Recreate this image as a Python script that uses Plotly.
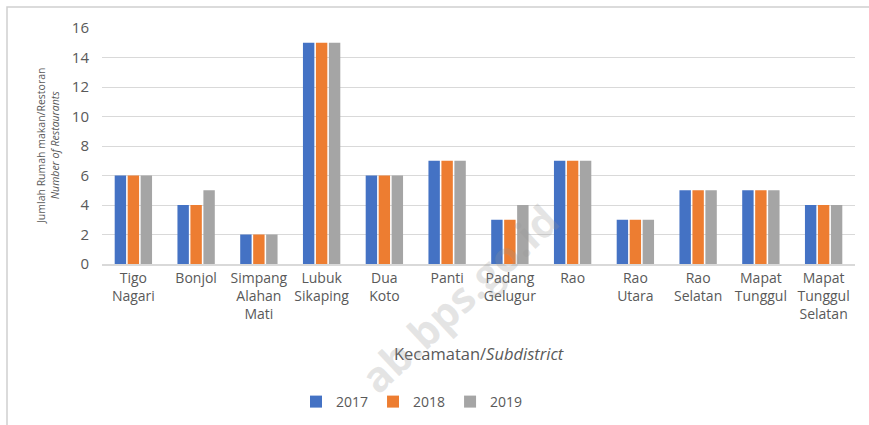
import plotly.graph_objects as go

categories = ["Tigo<br>Nagari", "Bonjol", "Simpang<br>Alahan<br>Mati", "Lubuk<br>Sikaping",
              "Dua<br>Koto", "Panti", "Padang<br>Gelugur", "Rao", "Rao<br>Utara",
              "Rao<br>Selatan", "Mapat<br>Tunggul", "Mapat<br>Tunggul<br>Selatan"]
v2017 = [6, 4, 2, 15, 6, 7, 3, 7, 3, 5, 5, 4]
v2018 = [6, 4, 2, 15, 6, 7, 3, 7, 3, 5, 5, 4]
v2019 = [6, 5, 2, 15, 6, 7, 4, 7, 3, 5, 5, 4]
years = ["2017", "2018", "2019"]
colors = ["#4472C4", "#ED7D31", "#A5A5A5"]

W, H = 869, 425
L, R, T, B = 102, 855, 28, 264

def px(x):
    return (x - L) / (R - L)

def py(y):
    return (B - y) / (B - T)

fig = go.Figure()
for name, vals, c in zip(years, [v2017, v2018, v2019], colors):
    fig.add_trace(go.Bar(x=categories, y=vals, name=name, marker_color=c,
                         marker_line_width=0))

font_family = "Open Sans, Liberation Sans, sans-serif"
fig.update_layout(
    width=W, height=H,
    margin=dict(l=L, r=W - R, t=T, b=H - B, pad=0, autoexpand=False),
    paper_bgcolor="white", plot_bgcolor="white",
    barmode="group", bargap=0.38, bargroupgap=0.12,
    font=dict(family=font_family, color="#595959", size=13),
    showlegend=True,
    legend=dict(orientation="h", x=px(412), y=py(402), xanchor="center", yanchor="middle",
                font=dict(size=14, color="#595959"), itemwidth=30,
                bgcolor="rgba(0,0,0,0)"),
    xaxis=dict(showgrid=False, showline=True, linecolor="#d9d9d9", linewidth=1.5,
               ticks="", tickfont=dict(size=14, color="#595959"), tickangle=0,
               automargin=False),
    yaxis=dict(range=[0, 16], dtick=2, showgrid=True, gridcolor="#d9d9d9", gridwidth=1,
               zeroline=False, showline=False, ticks="", automargin=False,
               tickfont=dict(size=15, color="#595959"), ticklabelstandoff=12),
)

fig.add_annotation(xref="paper", yref="paper", x=0.5, y=py(353), showarrow=False,
                   text="Kecamatan/<i>Subdistrict</i>", font=dict(size=16.5, color="#595959"),
                   xanchor="center", yanchor="middle")
fig.add_annotation(xref="paper", yref="paper", x=px(48), y=0.5, showarrow=False,
                   text="Jumlah Rumah makan/Restoran<br><i>Number of Restaurants</i>",
                   textangle=-90, font=dict(size=10.5, color="#595959"),
                   xanchor="center", yanchor="middle")
# watermark
fig.add_annotation(xref="paper", yref="paper", x=px(458), y=py(298), showarrow=False,
                   text="<b>ab.bps.go.id</b>", textangle=-43,
                   font=dict(size=42, color="rgba(150,150,150,0.25)"),
                   xanchor="center", yanchor="middle")
# frame (only top and left edges fall inside the picture)
fig.add_shape(type="rect", xref="paper", yref="paper",
              x0=px(7), x1=px(900), y0=py(460), y1=py(7),
              line=dict(color="#d0d0d0", width=1.5), fillcolor="rgba(0,0,0,0)", layer="above")

fig.write_html("out.html", config={"displayModeBar": False},
               post_script="document.body.style.margin='0';document.body.style.overflow='hidden';")
